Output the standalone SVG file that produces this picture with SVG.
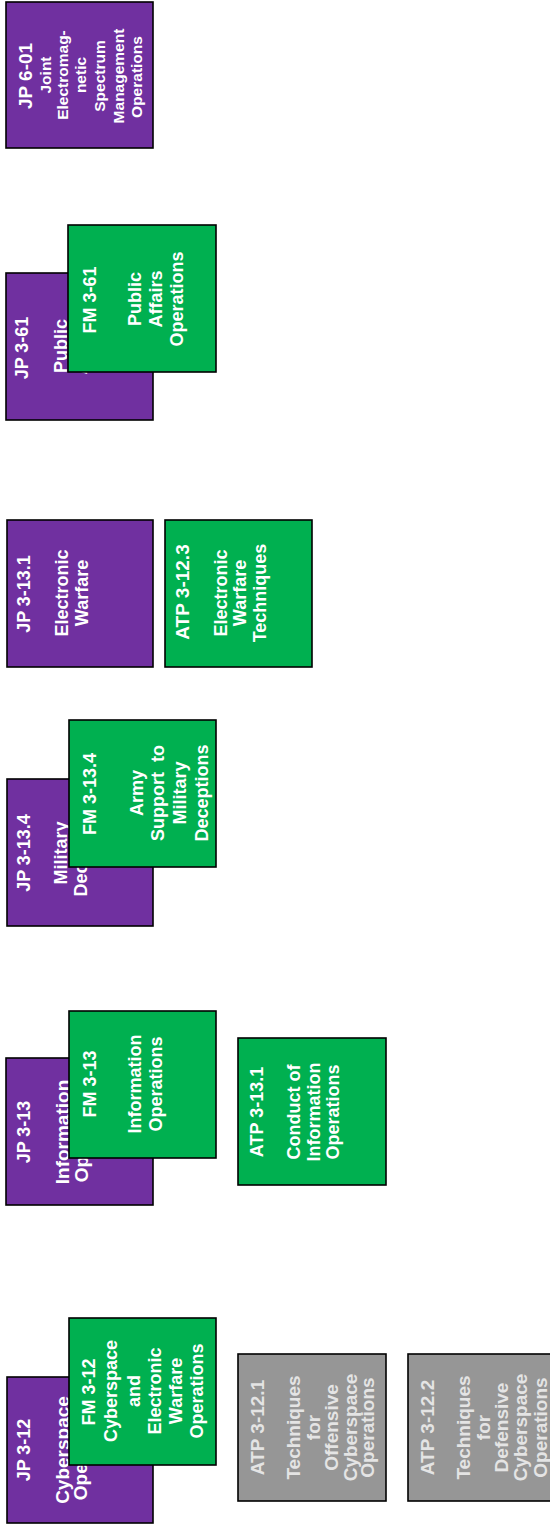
<svg xmlns="http://www.w3.org/2000/svg" width="550" height="1526" viewBox="0 0 550 1526">
<style>
.box{stroke:#000;stroke-width:1.6}
.jp{fill:#7030A0}
.fm{fill:#00B050}
.gr{fill:#969696}
text{font-family:"Liberation Sans",Arial,Helvetica,sans-serif;font-weight:bold;fill:#fff;text-anchor:middle;dominant-baseline:central;font-size:18px}
.t19{font-size:19px}
.s15{font-size:15.5px}
.g{fill:#e4e4e4;font-size:19px}
</style>
<rect width="550" height="1526" fill="#fff"/>
<g id="connectors"></g>

<g id="jp6-01">
<rect class="box jp" x="6" y="2" width="147" height="146"/>
<text class="t19" transform="translate(25,76) rotate(-90)">JP 6-01</text>
<text class="s15" transform="translate(45,75) rotate(-90)">Joint</text>
<text class="s15" transform="translate(62.5,75) rotate(-90)">Electromag-</text>
<text class="s15" transform="translate(80.5,75) rotate(-90)">netic</text>
<text class="s15" transform="translate(99,76) rotate(-90)">Spectrum</text>
<text class="s15" transform="translate(118,76) rotate(-90)">Management</text>
<text class="s15" transform="translate(136.5,77) rotate(-90)">Operations</text>
</g>

<g id="jp3-61">
<rect class="box jp" x="6" y="273" width="147" height="147"/>
<text transform="translate(22,348) rotate(-90)">JP 3-61</text>
<text transform="translate(61,346) rotate(-90)">Public</text>
<text transform="translate(81,346) rotate(-90)">Affairs</text>
</g>
<g id="fm3-61">
<rect class="box fm" x="68" y="225" width="148" height="147"/>
<text transform="translate(90,300) rotate(-90)">FM 3-61</text>
<text transform="translate(135,299) rotate(-90)">Public</text>
<text transform="translate(156,299) rotate(-90)">Affairs</text>
<text transform="translate(177,299) rotate(-90)">Operations</text>
</g>

<g id="jp3-13-1">
<rect class="box jp" x="7" y="520" width="146" height="147"/>
<text transform="translate(23.5,594) rotate(-90)">JP 3-13.1</text>
<text transform="translate(62,593) rotate(-90)">Electronic</text>
<text transform="translate(81.5,593) rotate(-90)">Warfare</text>
</g>
<g id="atp3-12-3">
<rect class="box fm" x="165" y="520" width="147" height="147"/>
<text class="t19" transform="translate(182,592) rotate(-90)">ATP 3-12.3</text>
<text transform="translate(220.5,593) rotate(-90)">Electronic</text>
<text transform="translate(240,593) rotate(-90)">Warfare</text>
<text transform="translate(259.5,593) rotate(-90)">Techniques</text>
</g>

<g id="jp3-13-4">
<rect class="box jp" x="7" y="779" width="146" height="147"/>
<text transform="translate(24,853) rotate(-90)">JP 3-13.4</text>
<text transform="translate(61,853) rotate(-90)">Military</text>
<text transform="translate(80.5,853) rotate(-90)">Deception</text>
</g>
<g id="fm3-13-4">
<rect class="box fm" x="69" y="720" width="147" height="147"/>
<text transform="translate(90,794) rotate(-90)">FM 3-13.4</text>
<text transform="translate(136.5,793) rotate(-90)">Army</text>
<text transform="translate(158,793) rotate(-90)">Support&#160; to</text>
<text transform="translate(180,793) rotate(-90)">Military</text>
<text transform="translate(201.5,793) rotate(-90)">Deceptions</text>
</g>

<g id="jp3-13">
<rect class="box jp" x="6" y="1058" width="147" height="147"/>
<text transform="translate(23.5,1132) rotate(-90)">JP 3-13</text>
<text class="t19" transform="translate(62,1132) rotate(-90)">Information</text>
<text class="t19" transform="translate(81,1132) rotate(-90)">Operations</text>
</g>
<g id="fm3-13">
<rect class="box fm" x="69" y="1011" width="147" height="147"/>
<text transform="translate(90,1084) rotate(-90)">FM 3-13</text>
<text transform="translate(135,1084) rotate(-90)">Information</text>
<text transform="translate(156,1084) rotate(-90)">Operations</text>
</g>
<g id="atp3-13-1">
<rect class="box fm" x="238" y="1038" width="148" height="147"/>
<text transform="translate(257,1112) rotate(-90)">ATP 3-13.1</text>
<text transform="translate(293.5,1112) rotate(-90)">Conduct of</text>
<text transform="translate(313.5,1112) rotate(-90)">Information</text>
<text transform="translate(332.5,1112) rotate(-90)">Operations</text>
</g>

<g id="jp3-12">
<rect class="box jp" x="7" y="1377" width="146" height="146"/>
<text transform="translate(24,1450) rotate(-90)">JP 3-12</text>
<text class="t19" transform="translate(62,1450) rotate(-90)">Cyberspace</text>
<text class="t19" transform="translate(80.5,1450) rotate(-90)">Operations</text>
</g>
<g id="fm3-12">
<rect class="box fm" x="69" y="1318" width="147" height="147"/>
<text transform="translate(88.5,1392) rotate(-90)">FM 3-12</text>
<text transform="translate(110.5,1391) rotate(-90)">Cyberspace</text>
<text transform="translate(134,1391) rotate(-90)">and</text>
<text transform="translate(155,1391) rotate(-90)">Electronic</text>
<text transform="translate(175.5,1391) rotate(-90)">Warfare</text>
<text transform="translate(196.5,1391) rotate(-90)">Operations</text>
</g>

<g id="atp3-12-1">
<rect class="box gr" x="238" y="1354" width="148" height="147"/>
<text class="g" transform="translate(257,1427.5) rotate(-90)">ATP 3-12.1</text>
<text class="g" transform="translate(293.5,1427.5) rotate(-90)">Techniques</text>
<text class="g" transform="translate(313,1427.5) rotate(-90)">for</text>
<text class="g" transform="translate(331.5,1427.5) rotate(-90)">Offensive</text>
<text class="g" transform="translate(350,1427.5) rotate(-90)">Cyberspace</text>
<text class="g" transform="translate(367,1427.5) rotate(-90)">Operations</text>
</g>
<g id="atp3-12-2">
<rect class="box gr" x="408" y="1354" width="148" height="147"/>
<text class="g" transform="translate(427,1427.5) rotate(-90)">ATP 3-12.2</text>
<text class="g" transform="translate(463.5,1427.5) rotate(-90)">Techniques</text>
<text class="g" transform="translate(483,1427.5) rotate(-90)">for</text>
<text class="g" transform="translate(501.5,1427.5) rotate(-90)">Defensive</text>
<text class="g" transform="translate(520,1427.5) rotate(-90)">Cyberspace</text>
<text class="g" transform="translate(540,1427.5) rotate(-90)">Operations</text>
</g>
</svg>
